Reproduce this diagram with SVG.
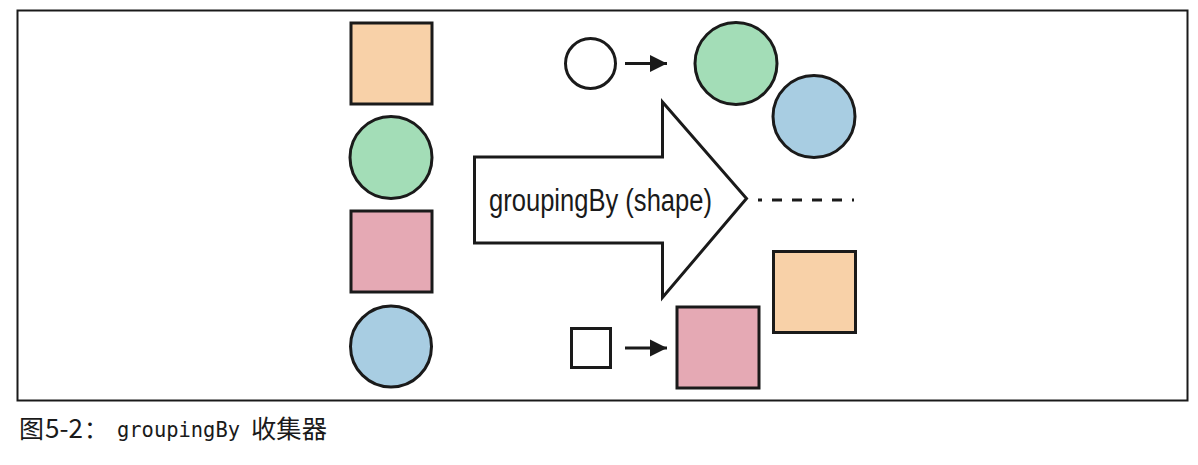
<svg xmlns="http://www.w3.org/2000/svg" width="1198" height="465" viewBox="0 0 1198 465">
<style>
.s{stroke:#1a1a1a;stroke-width:3}
.orange{fill:#F8D1A8}
.green{fill:#A3DDB7}
.pink{fill:#E5A9B4}
.blue{fill:#A8CDE2}
.white{fill:#ffffff}
.lbl{font-family:"Liberation Sans","Noto Sans",sans-serif;font-size:31px;fill:#1a1a1a}
.cap{font-family:"Noto Sans CJK SC","Noto Sans",sans-serif;fill:#1a1a1a}
.mono{font-family:"DejaVu Sans Mono","Liberation Mono",monospace;fill:#1a1a1a}
</style>
<defs>
<marker id="ah" viewBox="0 0 10 10" refX="10" refY="5" markerWidth="17" markerHeight="18" markerUnits="userSpaceOnUse" orient="auto">
<path d="M0,0 L10,5 L0,10 Z" fill="#1a1a1a"/>
</marker>
</defs>
<rect x="17.5" y="10.5" width="1170" height="390" fill="#ffffff" stroke="#1a1a1a" stroke-width="2"/>
<g id="input">
<rect id="in-sq1" class="s orange" x="351" y="23" width="81" height="81"/>
<circle id="in-c1" class="s green" cx="391" cy="157.5" r="41"/>
<rect id="in-sq2" class="s pink" x="351" y="211" width="81" height="81"/>
<circle id="in-c2" class="s blue" cx="391" cy="346.5" r="40.5"/>
</g>
<g id="grouping-arrow">
<path class="s white" d="M474.5,157 L662.5,157 L662.5,102 L746.5,198.5 L662.5,297.5 L662.5,243 L474.5,243 Z"/>
<text class="lbl" x="489" y="211" textLength="223" lengthAdjust="spacingAndGlyphs">groupingBy (shape)</text>
</g>
<g id="circle-key">
<circle class="s white" cx="590.5" cy="63.5" r="25"/>
</g>
<g id="square-key">
<rect class="s white" x="571.5" y="328.5" width="39" height="39"/>
</g>
<g id="circle-group">
<circle class="s green" cx="736" cy="63.5" r="41"/>
<circle class="s blue" cx="814" cy="116.5" r="41"/>
</g>
<g id="square-group">
<rect class="s pink" x="677" y="307" width="82" height="81"/>
<rect class="s orange" x="773.5" y="251.5" width="82" height="81"/>
</g>
<g id="connectors">
<line x1="625" y1="63.5" x2="667" y2="63.5" stroke="#1a1a1a" stroke-width="3" marker-end="url(#ah)"/>
<line x1="625" y1="348" x2="667" y2="348" stroke="#1a1a1a" stroke-width="3" marker-end="url(#ah)"/>
<line x1="758" y1="200" x2="854" y2="200" stroke="#1a1a1a" stroke-width="3" stroke-dasharray="10 10" stroke-dashoffset="6"/>
</g>
<g id="caption">
<text class="cap" x="19" y="438" font-size="25">图</text>
<text class="cap" x="45" y="438" font-size="26">5-2</text>
<text class="cap" x="84" y="438" font-size="24">：</text>
<text class="mono" x="117" y="437" font-size="21" textLength="123" lengthAdjust="spacingAndGlyphs">groupingBy</text>
<text class="cap" x="251" y="438" font-size="25" textLength="76" lengthAdjust="spacingAndGlyphs">收集器</text>
</g>
</svg>
